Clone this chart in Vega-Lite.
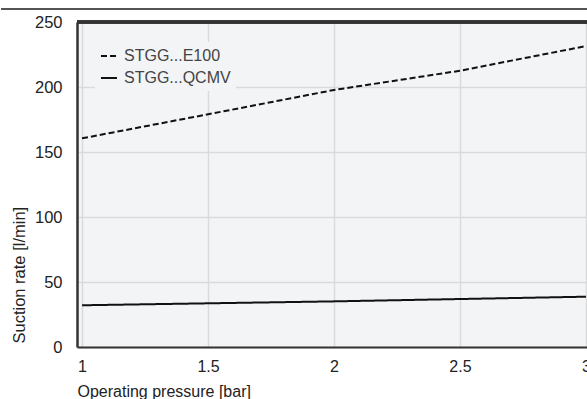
{
  "$schema": "https://vega.github.io/schema/vega-lite/v6.json",
  "autosize": "none",
  "width": 514,
  "height": 325,
  "padding": {"left": 77, "top": 22, "right": 0, "bottom": 52},
  "background": "white",
  "config": {
    "font": "Liberation Sans",
    "view": {"fill": "#f3f4f6", "stroke": null}
  },
  "data": {
    "values": [
      {"p": 1, "rate": 160.5, "series": "STGG...E100"},
      {"p": 1.5, "rate": 179, "series": "STGG...E100"},
      {"p": 2, "rate": 197.7, "series": "STGG...E100"},
      {"p": 2.5, "rate": 212.5, "series": "STGG...E100"},
      {"p": 3, "rate": 231.5, "series": "STGG...E100"},
      {"p": 1, "rate": 32.1, "series": "STGG...QCMV"},
      {"p": 1.5, "rate": 33.6, "series": "STGG...QCMV"},
      {"p": 2, "rate": 35.1, "series": "STGG...QCMV"},
      {"p": 2.5, "rate": 36.9, "series": "STGG...QCMV"},
      {"p": 3, "rate": 38.7, "series": "STGG...QCMV"}
    ]
  },
  "layer": [
    {
      "mark": {"type": "line", "color": "#111111", "strokeWidth": 2},
      "encoding": {
        "x": {
          "field": "p", "type": "quantitative",
          "scale": {"domain": [0.98, 3.02], "nice": false, "zero": false},
          "axis": {
            "values": [1, 1.5, 2, 2.5, 3],
            "format": "~g",
            "title": "Operating pressure [bar]",
            "domainColor": "#333333", "domainWidth": 2,
            "ticks": false,
            "labelFontSize": 16, "labelColor": "#222222", "labelPadding": 11,
            "gridColor": "#dadada", "gridWidth": 1.5,
            "titleFontSize": 16, "titleFontWeight": "normal", "titleColor": "#222222",
            "titleX": 0, "titleY": 49, "titleAlign": "left", "titleBaseline": "alphabetic", "titleAnchor": "start"
          }
        },
        "y": {
          "field": "rate", "type": "quantitative",
          "scale": {"domain": [0, 250], "nice": false},
          "axis": {
            "values": [0, 50, 100, 150, 200, 250],
            "title": "Suction rate [l/min]",
            "domainColor": "#333333", "domainWidth": 2.5,
            "ticks": false,
            "labelFontSize": 16.5, "labelColor": "#222222", "labelPadding": 15,
            "gridColor": "#dadada", "gridWidth": 1.5,
            "titleFontSize": 16.5, "titleFontWeight": "normal", "titleColor": "#222222",
            "titleAngle": -90, "titleX": -58, "titleY": 321, "titleAlign": "left", "titleBaseline": "middle"
          }
        },
        "strokeDash": {
          "field": "series", "type": "nominal",
          "scale": {"domain": ["STGG...E100", "STGG...QCMV"], "range": [[6, 3], [1, 0]]},
          "legend": {
            "title": null,
            "orient": "none",
            "legendX": 18,
            "legendY": 20,
            "fillColor": "#f3f4f6",
            "padding": 5,
            "symbolType": "stroke",
            "symbolSize": 256,
            "symbolStrokeColor": "#111111",
            "symbolStrokeWidth": 2,
            "labelFontSize": 16,
            "labelColor": "#444444",
            "labelOffset": 6,
            "rowPadding": 5
          }
        }
      }
    },
    {
      "mark": {"type": "rule", "color": "#333333", "strokeWidth": 2.5},
      "encoding": {"y": {"datum": 250}}
    },
    {
      "mark": {"type": "rule", "color": "#555555", "strokeWidth": 1, "clip": false},
      "encoding": {
        "x": {"datum": 0.68},
        "x2": {"datum": 3.2},
        "y": {"datum": 260}
      }
    }
  ]
}
